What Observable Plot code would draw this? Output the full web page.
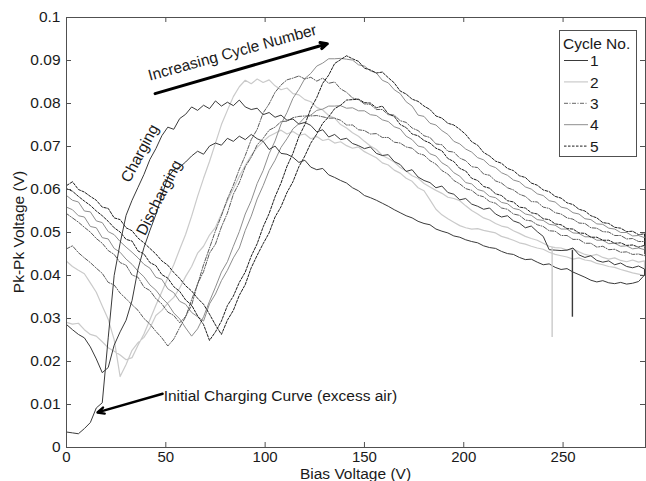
<!DOCTYPE html>
<html>
<head>
<meta charset="utf-8">
<script src="https://cdn.jsdelivr.net/npm/d3@7"></script>
<script src="https://cdn.jsdelivr.net/npm/@observablehq/plot@0.6"></script>
<style>
  html, body { margin: 0; padding: 0; background: #fff; }
  #chart { position: relative; width: 646px; height: 481px; }
</style>
</head>
<body>
<div id="chart"></div>
<script>
// ---------------- DATA ----------------
// Bias voltage sweep (V)
const bias = [0,3,6,9,12,15,18,21,24,27,30,33,36,39,42,45,48,51,54,57,60,63,66,69,72,75,78,81,84,87,
  90,93,96,99,102,105,108,111,114,117,120,123,126,129,132,135,138,141,144,147,150,153,156,159,162,165,168,171,174,177,
  180,183,186,189,192,195,198,201,204,207,210,213,216,219,222,225,228,231,234,237,240,243,246,249,252,255,258,261,264,267,
  270,273,276,279,282,285,288,291];

// Pk-Pk voltage (mV), up sweep ("charging") and down sweep ("discharging") for each cycle
const cycle1Up = [3.6,3.4,3.2,4.4,5.8,9.2,10.4,25.5,40.0,47.5,
  54.0,57.5,60.5,63.5,67.0,69.5,72.5,74.5,74.0,76.5,
  77.5,79.2,78.4,79.6,78.8,80.6,79.4,80.3,79.5,80.8,
  79.2,78.6,78.9,77.4,77.9,76.8,77.3,76.1,76.4,75.2,
  75.6,74.9,73.4,73.9,72.2,72.8,71.6,71.9,70.7,70.2,
  69.5,69.9,68.4,67.9,68.1,66.5,65.8,64.2,64.6,62.9,
  62.1,61.6,60.4,60.8,59.3,58.9,57.6,57.9,56.6,56.1,
  55.4,55.7,54.3,53.6,53.9,52.7,52.2,51.1,51.5,50.2,
  49.1,46.0,45.9,45.8,45.9,46.4,44.8,44.2,44.6,43.5,
  43.1,43.4,42.5,42.9,42.1,41.8,42.2,41.5];
const cycle1Down = [28.6,27.4,26.3,25.5,23.4,20.6,17.4,18.6,23.8,26.9,
  29.6,34.2,41.5,46.5,50.5,54.2,58.6,62.8,64.6,65.2,
  66.4,67.8,68.9,68.2,70.1,70.8,70.3,71.9,71.2,72.4,
  71.6,72.8,71.8,71.2,69.3,70.1,68.4,68.2,67.5,66.3,
  66.8,65.2,64.6,64.9,63.4,62.8,62.1,61.5,60.4,59.7,
  58.6,58.1,57.5,56.8,56.1,55.3,54.6,53.9,53.4,52.6,
  52.1,51.8,50.8,50.3,49.9,49.2,48.9,48.3,47.9,47.6,
  46.9,46.5,46.3,45.6,45.1,44.9,44.2,43.7,43.8,43.1,
  42.5,42.7,41.9,41.4,41.6,40.8,40.2,39.6,38.9,38.5,
  38.8,38.3,38.1,38.4,38.0,38.2,38.6,40.1];
const cycle2Up = [29.1,28.7,28.9,27.4,26.3,25.9,24.6,23.2,22.4,21.5,
  20.4,20.9,23.8,26.4,29.7,33.1,36.2,39.4,42.5,46.1,
  49.6,53.8,58.4,62.6,66.5,70.8,75.1,78.4,81.6,83.9,
  85.4,84.6,85.7,84.9,85.5,84.1,83.2,83.6,82.3,82.0,
  80.9,80.4,79.1,78.5,77.2,76.6,75.1,74.3,73.2,72.4,
  71.2,70.1,69.3,67.9,67.2,66.4,65.1,64.3,63.2,62.6,
  61.4,60.6,59.8,59.1,58.2,57.9,57.4,56.2,55.1,54.3,
  53.4,52.9,52.1,51.5,51.2,50.4,49.8,49.1,48.6,48.2,
  47.5,46.8,46.5,46.4,45.9,46.2,45.5,44.9,44.6,44.9,
  44.2,43.8,44.1,43.5,43.2,43.6,43.1,43.4];
const cycle2Down = [43.3,42.1,41.2,40.4,38.3,36.1,32.9,29.8,25.1,16.5,
  19.3,22.6,24.4,25.6,27.8,30.7,31.9,33.6,34.9,37.1,
  39.8,42.1,45.2,46.8,49.4,51.2,54.3,57.4,60.2,63.1,
  65.6,67.9,69.8,71.2,72.4,73.1,73.8,72.9,73.5,72.6,
  72.9,71.8,72.3,71.4,71.7,70.8,71.1,70.2,69.6,69.9,
  68.8,68.1,67.4,66.2,65.7,64.5,63.8,62.6,61.9,60.4,
  59.7,57.6,55.4,54.1,53.2,52.4,51.6,51.1,50.8,50.9,
  50.5,50.2,49.9,49.1,48.7,48.2,47.6,47.3,46.8,46.4,
  46.1,45.4,44.9,44.6,44.3,43.8,44.1,43.6,43.4,42.8,
  42.5,42.1,41.9,41.4,41.0,40.6,40.3,40.0];
const cycle3Up = [46.2,46.9,45.3,44.1,43.0,41.7,40.5,38.4,37.8,35.9,
  34.6,33.2,31.9,30.0,28.7,27.0,25.5,23.6,25.2,27.9,
  30.4,34.4,37.9,42.5,46.4,50.4,53.9,57.8,61.0,64.7,
  67.9,71.6,74.0,77.8,79.9,82.6,84.3,85.5,85.9,86.4,
  85.7,86.1,85.2,85.9,84.7,85.0,83.4,82.6,81.3,80.9,
  79.9,79.8,78.6,78.6,77.4,77.3,76.0,75.6,74.3,73.7,
  72.5,72.1,70.6,70.4,68.9,68.7,67.3,66.7,65.3,65.1,
  63.6,63.3,62.0,61.5,60.4,59.9,58.9,58.4,57.2,57.1,
  55.9,55.6,54.6,54.3,53.4,53.1,52.2,52.1,51.1,51.0,
  50.2,50.1,49.3,49.3,48.5,48.6,47.9,47.9];
const cycle3Down = [54.4,53.4,52.4,51.2,50.1,48.6,47.5,45.8,44.9,43.0,
  42.4,40.1,39.6,37.3,36.5,34.6,33.4,31.5,30.7,29.0,
  30.5,33.1,38.1,40.9,45.2,47.3,51.3,54.5,58.9,61.6,
  65.3,67.5,70.4,71.9,73.8,74.5,75.8,75.9,76.7,77.0,
  77.1,77.1,77.2,76.9,76.6,76.6,76.1,75.0,75.0,73.9,
  73.7,72.9,73.0,72.1,72.1,71.0,70.8,69.9,69.6,68.4,
  68.0,66.7,65.9,64.4,63.6,62.1,61.3,60.2,59.8,58.7,
  58.3,57.2,56.8,55.7,55.4,54.3,54.0,52.9,52.7,51.8,
  51.4,50.4,50.3,49.3,49.3,48.4,48.4,47.5,47.5,46.6,
  46.8,46.0,46.1,45.4,45.5,44.9,45.0,44.6];
const cycle4Up = [55.9,55.3,53.9,53.6,51.4,51.1,48.8,48.5,46.3,45.4,
  43.8,42.6,41.0,39.7,37.8,36.6,34.8,33.4,31.3,29.9,
  27.8,25.9,27.6,30.4,34.0,37.3,40.8,43.2,46.8,50.2,
  54.3,57.4,61.4,64.4,68.3,71.3,75.2,77.9,81.2,83.3,
  85.8,87.0,88.7,89.4,90.4,90.4,90.5,90.3,90.1,89.0,
  88.7,87.6,87.1,85.4,84.8,83.2,82.3,80.4,79.4,77.3,
  77.0,75.4,75.0,73.7,72.8,71.2,70.6,69.4,68.7,67.4,
  66.9,65.6,65.1,63.9,63.3,62.2,61.8,60.6,60.1,59.0,
  58.6,57.4,57.1,55.9,55.6,54.6,54.3,53.2,53.0,52.0,
  51.9,51.0,50.8,50.0,50.0,49.2,49.3,48.8];
const cycle4Down = [58.6,57.5,57.1,55.0,54.8,52.7,52.3,50.2,49.5,47.9,
  46.6,45.4,44.1,42.6,41.7,39.6,39.1,36.9,36.0,34.0,
  33.3,31.4,30.4,29.4,33.4,35.7,38.8,41.2,44.1,46.4,
  50.5,53.8,57.8,60.9,64.4,66.8,69.8,71.8,74.1,75.3,
  76.8,77.3,78.4,78.7,79.4,79.4,79.5,78.9,79.0,78.3,
  78.3,77.4,77.2,76.2,75.8,74.6,74.1,72.4,71.6,70.1,
  69.8,68.3,67.8,66.2,65.4,63.9,63.1,61.6,61.3,60.0,
  59.6,58.4,58.1,57.0,56.7,55.6,55.3,54.3,54.0,53.0,
  52.8,51.9,51.7,50.8,50.8,49.9,49.8,49.0,49.0,48.2,
  48.2,47.4,47.5,46.8,46.9,46.2,46.4,46.0];
const cycle5Up = [60.2,59.6,58.4,57.3,56.3,55.0,53.9,52.6,51.1,50.1,
  48.4,48.0,45.7,45.0,43.0,42.3,40.2,39.4,37.4,36.3,
  34.3,33.1,30.6,28.6,24.9,26.9,29.4,33.0,35.2,38.4,
  40.8,44.5,47.4,51.3,54.4,58.3,61.5,65.4,68.4,72.3,
  75.1,78.8,81.4,84.7,86.6,89.3,90.2,91.1,90.4,89.8,
  88.2,87.8,87.1,87.3,86.0,84.8,82.9,82.2,81.0,80.5,
  79.4,78.6,77.1,76.6,75.4,75.0,74.0,72.8,71.1,70.3,
  68.6,67.8,66.6,66.1,64.9,64.4,63.2,62.8,61.5,61.0,
  59.9,59.5,58.4,58.0,56.9,56.5,55.4,55.0,53.9,53.4,
  52.3,52.1,51.2,51.0,50.2,50.3,49.5,49.7];
const cycle5Down = [60.9,61.8,60.0,59.4,58.4,57.5,55.9,55.6,53.4,53.0,
  51.1,50.4,48.7,47.6,46.3,45.0,43.4,42.4,40.7,39.3,
  37.6,36.4,34.7,33.3,31.0,28.5,26.3,29.6,31.9,35.4,
  37.9,41.8,44.7,47.4,49.9,53.6,56.0,59.3,61.8,65.3,
  67.8,70.8,72.9,75.4,76.9,78.8,79.6,80.8,80.9,81.0,
  80.2,80.1,79.0,79.4,77.6,77.0,75.1,74.4,72.9,72.5,
  71.4,70.8,69.6,69.0,67.2,66.5,64.9,64.3,62.6,62.1,
  60.7,60.3,59.0,58.6,57.4,57.1,55.9,55.7,54.6,54.3,
  53.2,53.0,52.0,51.8,50.9,50.8,49.9,49.8,48.9,48.9,
  48.2,48.2,47.5,47.6,47.0,47.1,46.6,47.0];

// Single-sample dropouts (V)
const spikeCycles = ["2", "1"];
const spikeBias = [244.5, 254.7];
const spikeBase = [0.0465, 0.0458];
const spikeTip = [0.0256, 0.0303];

const cycleNames = ["1", "2", "3", "4", "5"];
const xTicks = [0, 50, 100, 150, 200, 250];
const yTicks = [0, 0.01, 0.02, 0.03, 0.04, 0.05, 0.06, 0.07, 0.08, 0.09, 0.1];
const yTickLabels = ["0", "0.01", "0.02", "0.03", "0.04", "0.05", "0.06", "0.07", "0.08", "0.09", "0.1"];
const xTitle = "Bias Voltage (V)";
const yTitle = "Pk-Pk Voltage (V)";
const legendTitle = "Cycle No.";

// Annotations (data coordinates)
const noteTexts = ["Increasing Cycle Number", "Charging", "Discharging"];
const noteX = [83.5, 36.9, 46.6];
const noteY = [0.0918, 0.0684, 0.0581];
const noteAngle = [-15.5, -62, -63];
const initialNote = "Initial Charging Curve (excess air)";
const initialNoteX = 48.9, initialNoteY = 0.0120;
const arrowX1 = [44.6, 48.4], arrowY1 = [0.0823, 0.0125];
const arrowX2 = [131.3, 15.6], arrowY2 = [0.0939, 0.00815];
const arrowWidth = [3, 2.4];

// ---------------- BUILD ----------------
const sweeps = {
  "1": [cycle1Up, cycle1Down], "2": [cycle2Up, cycle2Down], "3": [cycle3Up, cycle3Down],
  "4": [cycle4Up, cycle4Down], "5": [cycle5Up, cycle5Down]
};
const rows = [];
for (const c of cycleNames) {
  const [up, down] = sweeps[c];
  bias.forEach((b, i) => rows.push({cycle: c, x: b, y: up[i] / 1000}));
  for (let i = bias.length - 1; i >= 0; i--) rows.push({cycle: c, x: bias[i], y: down[i] / 1000});
}
const styles = {
  "1": {stroke: "#3a3a3a", width: 1, dash: null},
  "2": {stroke: "#cacaca", width: 1.2, dash: null},
  "3": {stroke: "#5c5c5c", width: 1, dash: "4,1.5,1,1.5"},
  "4": {stroke: "#8e8e8e", width: 1, dash: null},
  "5": {stroke: "#1e1e1e", width: 1, dash: "2.5,1.5"}
};
const drawOrder = ["2", "4", "3", "5", "1"];
const spikes = spikeBias.map((x, i) => ({cycle: spikeCycles[i], x, base: spikeBase[i], tip: spikeTip[i]}));
const notes = noteTexts.map((t, i) => ({t, x: noteX[i], y: noteY[i], r: noteAngle[i]}));
const arrows = arrowX1.map((x1, i) => ({x1, y1: arrowY1[i], x2: arrowX2[i], y2: arrowY2[i], w: arrowWidth[i]}));

const W = 646, H = 481, mL = 66, mR = 1, mT = 17, mB = 34;
const plotW = W - mL - mR, plotH = H - mT - mB;
const FONT = "'Liberation Sans', Arial, Helvetica, sans-serif";
const TXT = "#1a1a1a", AX = "#505050";

const chart = Plot.plot({
  width: W, height: H,
  marginLeft: mL, marginRight: mR, marginTop: mT, marginBottom: mB,
  style: {fontFamily: FONT, fontSize: "15.5px", color: TXT, background: "#fff", overflow: "visible"},
  x: {domain: [0, 291.5]},
  y: {domain: [0, 0.1]},
  marks: [
    ...drawOrder.map(c => Plot.line(rows.filter(r => r.cycle === c), {
      x: "x", y: "y", stroke: styles[c].stroke, strokeWidth: styles[c].width,
      strokeDasharray: styles[c].dash
    })),
    ...spikes.map(s => Plot.ruleX([s], {x: "x", y1: "base", y2: "tip", stroke: styles[s.cycle].stroke, strokeWidth: 1.4})),
    Plot.frame({stroke: AX}),
    Plot.tickX(xTicks, {x: d => d, insetTop: plotH - 5, stroke: AX}),
    Plot.tickX(xTicks, {x: d => d, insetBottom: plotH - 5, stroke: AX}),
    Plot.tickY(yTicks, {y: d => d, insetRight: plotW - 5, stroke: AX}),
    Plot.tickY(yTicks, {y: d => d, insetLeft: plotW - 5, stroke: AX}),
    Plot.axisX({ticks: xTicks, tickSize: 0, tickPadding: 4, label: null, tickFormat: d => String(d), fontSize: 15, fill: TXT}),
    Plot.axisY({ticks: yTicks, tickSize: 0, tickPadding: 6, label: null, fontSize: 15.5, fill: TXT,
      tickFormat: d => yTickLabels[yTicks.findIndex(t => Math.abs(t - d) < 1e-9)]}),
    Plot.arrow(arrows, {x1: "x1", y1: "y1", x2: "x2", y2: "y2", strokeWidth: "w", stroke: "#000", headLength: 11, headAngle: 50}),
    Plot.text(notes, {x: "x", y: "y", text: "t", rotate: "r", fontSize: 15.5, fill: TXT}),
    Plot.text([initialNote], {x: () => initialNoteX, y: () => initialNoteY, text: d => d, textAnchor: "start", fontSize: 15.5, fill: TXT})
  ]
});
document.getElementById("chart").appendChild(chart);

// Axis titles (explicit placement relative to the frame)
const svg = d3.select(chart);
svg.append("text")
  .attr("x", mL + plotW / 2).attr("y", H - 2.5)
  .attr("text-anchor", "middle").attr("fill", TXT)
  .style("font-family", FONT).style("font-size", "15.5px")
  .text(xTitle);
svg.append("text")
  .attr("transform", `translate(19,${mT + plotH / 2}) rotate(-90)`)
  .attr("text-anchor", "middle").attr("dy", "0.35em").attr("fill", TXT)
  .style("font-family", FONT).style("font-size", "15.5px")
  .text(yTitle);

// Legend (inside the axes, top right)
const lg = d3.select("#chart").append("svg")
  .attr("width", 79).attr("height", 128)
  .style("position", "absolute").style("left", "559px").style("top", "30px")
  .style("font-family", FONT).style("font-size", "15.5px");
lg.append("rect").attr("x", 0.5).attr("y", 0.5).attr("width", 77).attr("height", 126)
  .attr("fill", "#fff").attr("stroke", AX);
lg.append("text").attr("x", 4).attr("y", 19).attr("fill", TXT).text(legendTitle);
cycleNames.forEach((c, i) => {
  const yy = 30.5 + i * 21.4;
  const st = styles[c];
  lg.append("line").attr("x1", 5).attr("x2", 29).attr("y1", yy).attr("y2", yy)
    .attr("stroke", c === "3" ? "#666" : st.stroke).attr("stroke-width", st.width)
    .attr("stroke-dasharray", st.dash);
  lg.append("text").attr("x", 31).attr("y", yy + 5.6).attr("fill", TXT).text(c);
});
</script>
</body>
</html>
